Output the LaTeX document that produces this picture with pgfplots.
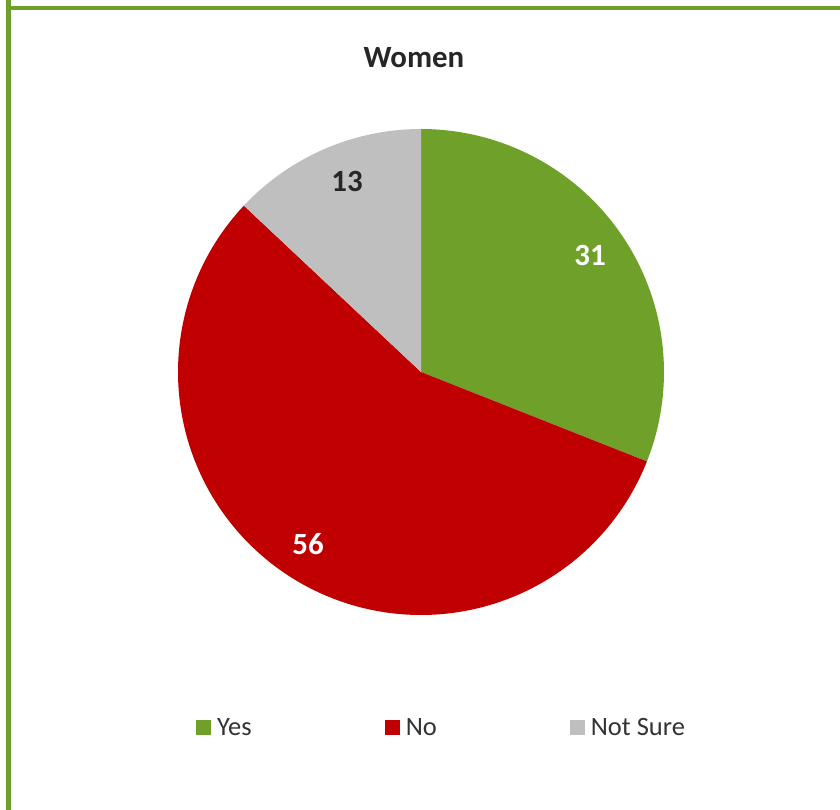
\documentclass[border=0pt]{standalone}
\usepackage{pgfplots}
\usepackage{pgfplotstable}
\pgfplotsset{compat=1.18}
\usepackage{fontspec}
\setmainfont{Carlito}
\definecolor{cYes}{HTML}{6FA12A}
\definecolor{cNo}{HTML}{C00000}
\definecolor{cNS}{HTML}{BFBFBF}
\definecolor{txt}{HTML}{262626}
\definecolor{leg}{HTML}{333333}
\pgfplotstableread{
label value
Yes 31
No 56
NotSure 13
}\piedata
\pgfplotstablegetelem{0}{value}\of\piedata \let\vYes\pgfplotsretval
\pgfplotstablegetelem{1}{value}\of\piedata \let\vNo\pgfplotsretval
\pgfplotstablegetelem{2}{value}\of\piedata \let\vNS\pgfplotsretval
\pgfmathsetmacro\aA{90}
\pgfmathsetmacro\aB{90-3.6*\vYes}
\pgfmathsetmacro\aC{\aB-3.6*\vNo}
\pgfmathsetmacro\aD{\aC-3.6*\vNS}
\begin{document}
\begin{tikzpicture}
\begin{axis}[
  scale only axis, width=840bp, height=810bp,
  xmin=0, xmax=840, ymin=0, ymax=810,
  hide axis, clip=true,
  legend columns=3,
  legend image code/.code={\path[#1] (0bp,-7.5bp) rectangle (15bp,7.5bp);},
  legend style={at={(axis cs:196,82.5)}, anchor=west, draw=none, fill=none,
    inner sep=0pt, font=\fontsize{26.6}{30}\selectfont, text=leg,
    nodes={inner sep=0pt, anchor=west},
    /tikz/every odd column/.append style={column sep=6bp},
    /tikz/every even column/.append style={column sep=133bp}},
]
\addplot[draw=none, fill=cYes, domain=\aA:\aB, samples=120, variable=\t]
  ({421+243*cos(t)}, {438+243*sin(t)}) -- (axis cs:421,438) -- cycle;
\addlegendentry{Yes}
\addplot[draw=none, fill=cNo, domain=\aB:\aC, samples=200, variable=\t]
  ({421+243*cos(t)}, {438+243*sin(t)}) -- (axis cs:421,438) -- cycle;
\addlegendentry{No}
\addplot[draw=none, fill=cNS, domain=\aC:\aD, samples=60, variable=\t]
  ({421+243*cos(t)}, {438+243*sin(t)}) -- (axis cs:421,438) -- cycle;
\addlegendentry{Not Sure}
\node[font=\fontsize{31}{35}\selectfont\bfseries, text=white] at (axis cs:590,555) {\vYes};
\node[font=\fontsize{31}{35}\selectfont\bfseries, text=txt] at (axis cs:347,629) {\vNS};
\node[font=\fontsize{31}{35}\selectfont\bfseries, text=white] at (axis cs:308,266) {\vNo};
\node[font=\fontsize{31}{35}\selectfont\bfseries, text=txt] at (axis cs:414,752) {Women};
\draw[cYes, line width=4bp] (axis cs:8.5,900) -- (axis cs:8.5,802.3) -- (axis cs:900,802.3);
\draw[cYes, line width=4bp] (axis cs:8.5,802.3) -- (axis cs:8.5,-50);
\end{axis}
\pgfresetboundingbox
\useasboundingbox (0,0) rectangle (840bp,810bp);
\end{tikzpicture}
\end{document}
